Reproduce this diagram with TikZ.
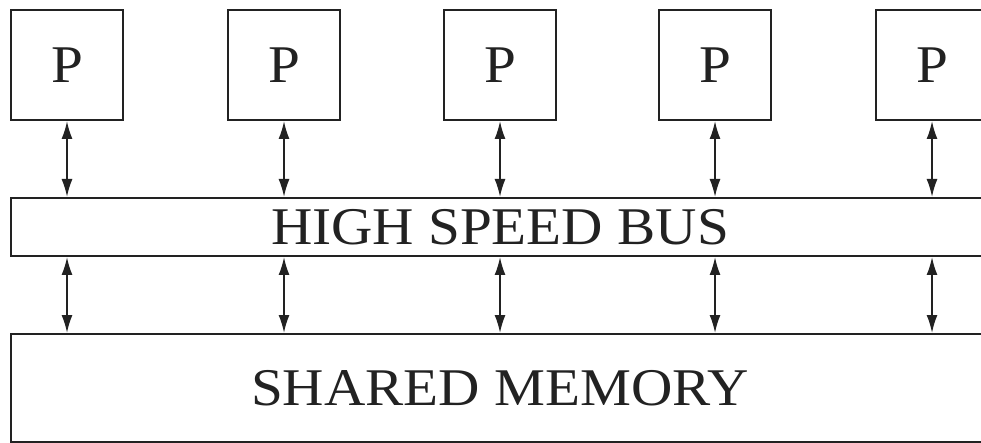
\documentclass[tikz,border=0pt]{standalone}
\usepackage{fontspec}
\setmainfont{Liberation Serif}[FakeStretch=1.08]
\usetikzlibrary{arrows.meta}
\definecolor{ink}{HTML}{222222}
\begin{document}
\begin{tikzpicture}[x=1pt,y=-1pt,
  unit/.style={draw=ink,line width=2pt,inner sep=0pt,text=ink,font=\fontsize{53}{53}\selectfont},
  pbox/.style={unit,minimum width=112pt,minimum height=110pt},
  wide/.style={unit,minimum width=978pt},
  link/.style={draw=ink,line width=1.8pt,{Latex[length=18pt,width=11pt]}-{Latex[length=18pt,width=11pt]}}]
\useasboundingbox (0,0) rectangle (981,443);
\clip (0,0) rectangle (981,443);
% processors
\foreach \i/\x in {1/67,2/284,3/500,4/715,5/932}
  \node[pbox] (p\i) at (\x,65) {P};
% bus and memory
\node[wide,minimum height=58pt] (bus) at (500,227) {HIGH SPEED BUS};
\node[wide,minimum height=108pt] (mem) at (500,388) {SHARED MEMORY};
% connections
\foreach \i in {1,...,5}{
  \draw[link] (p\i.south) -- (p\i.south |- bus.north);
  \draw[link] (p\i.south |- bus.south) -- (p\i.south |- mem.north);
}
\end{tikzpicture}
\end{document}
